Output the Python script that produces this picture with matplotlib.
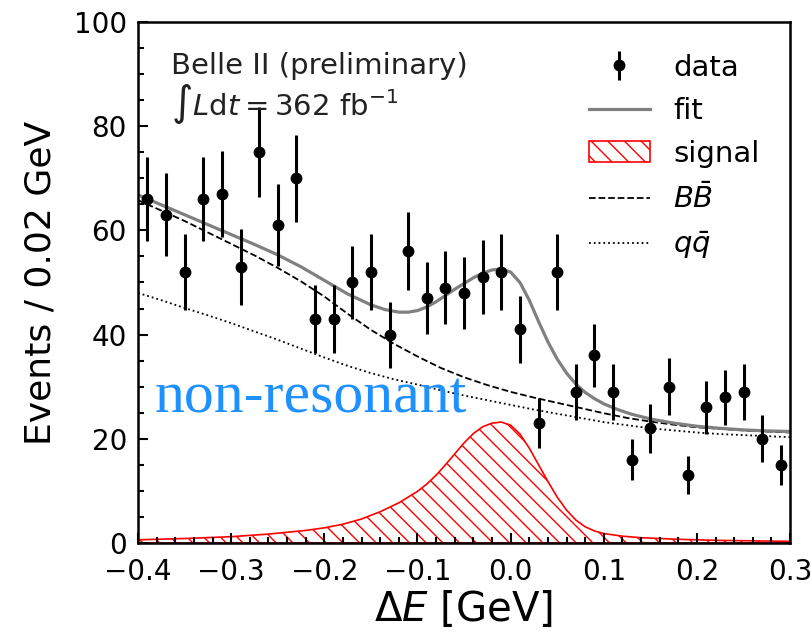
import numpy as np
import matplotlib
matplotlib.use("Agg")
import matplotlib.pyplot as plt
from matplotlib.patches import Patch
from matplotlib.lines import Line2D
from matplotlib.ticker import MultipleLocator

# data points (bin centres, 0.02 GeV bins)
de_data = [-0.39, -0.37, -0.35, -0.33, -0.31, -0.29, -0.27, -0.25, -0.23, -0.21,
           -0.19, -0.17, -0.15, -0.13, -0.11, -0.09, -0.07, -0.05, -0.03, -0.01,
           0.01, 0.03, 0.05, 0.07, 0.09, 0.11, 0.13, 0.15, 0.17, 0.19,
           0.21, 0.23, 0.25, 0.27, 0.29]
counts = [66, 63, 52, 66, 67, 53, 75, 61, 70, 43,
          43, 50, 52, 40, 56, 47, 49, 48, 51, 52,
          41, 23, 52, 29, 36, 29, 16, 22, 30, 13,
          26, 28, 29, 20, 15]

# total fit curve
fit_x = [-0.400, -0.375, -0.350, -0.325, -0.300, -0.275, -0.250, -0.225, -0.200, -0.175,
         -0.150, -0.135, -0.120, -0.110, -0.100, -0.090, -0.080, -0.070, -0.060, -0.050,
         -0.040, -0.030, -0.020, -0.010, 0.000, 0.010, 0.020, 0.030, 0.040, 0.050,
         0.060, 0.070, 0.080, 0.090, 0.100, 0.115, 0.130, 0.150, 0.175, 0.200,
         0.225, 0.250, 0.275, 0.300]
fit_y = [66.8, 64.9, 63.0, 61.1, 59.2, 57.3, 55.3, 53.0, 50.4, 47.8,
         45.7, 44.8, 44.3, 44.3, 44.6, 45.3, 46.3, 47.5, 48.7, 49.8,
         50.9, 51.8, 52.4, 52.6, 52.0, 50.0, 46.6, 42.5, 38.6, 35.3,
         32.6, 30.5, 28.9, 27.7, 26.7, 25.6, 24.7, 23.8, 23.0, 22.4,
         22.0, 21.7, 21.5, 21.4]

# BBbar and qqbar components (stacked)
bkg_x = [-0.400, -0.375, -0.350, -0.325, -0.300, -0.275, -0.250, -0.225, -0.200, -0.175,
         -0.150, -0.125, -0.100, -0.075, -0.050, -0.025, 0.000, 0.025, 0.050, 0.075,
         0.100, 0.125, 0.150, 0.175, 0.200, 0.225, 0.250, 0.275, 0.300]
bb_y = [65.8, 63.8, 61.8, 59.6, 57.4, 55.2, 52.8, 50.2, 47.3, 44.0,
        40.9, 38.2, 35.8, 33.6, 31.8, 30.3, 29.0, 27.9, 26.9, 25.9,
        24.9, 24.0, 23.3, 22.7, 22.2, 21.9, 21.6, 21.4, 21.2]
qq_y = [48.0, 46.6, 45.1, 43.7, 42.2, 40.6, 39.0, 37.3, 35.6, 34.0,
        32.6, 31.4, 30.4, 29.3, 28.3, 27.4, 26.5, 25.6, 24.8, 24.0,
        23.2, 22.6, 22.0, 21.6, 21.2, 20.9, 20.7, 20.5, 20.3]

# signal component
sig_x = [-0.40, -0.35, -0.30, -0.26, -0.22, -0.20, -0.18, -0.16, -0.14, -0.12,
         -0.10, -0.09, -0.08, -0.07, -0.06, -0.05, -0.04, -0.03, -0.02, -0.01,
         0.00, 0.01, 0.02, 0.03, 0.04, 0.05, 0.06, 0.07, 0.08, 0.09,
         0.10, 0.12, 0.14, 0.18, 0.22, 0.30]
sig_y = [0.6, 0.85, 1.2, 1.7, 2.4, 2.9, 3.6, 4.6, 6.0, 7.7,
         9.9, 11.3, 13.0, 15.0, 17.1, 19.2, 21.0, 22.3, 23.0, 23.2,
         22.6, 20.9, 18.2, 15.0, 11.8, 8.8, 6.3, 4.4, 3.1, 2.3,
         1.8, 1.3, 1.0, 0.7, 0.5, 0.3]

fig = plt.figure(figsize=(8.12, 6.38), dpi=100)
ax = fig.add_axes([0.170, 0.149, 0.803, 0.8165])

ax.fill_between(sig_x, 0, sig_y, facecolor="none", edgecolor="red",
                hatch="\\\\", linewidth=1.2)
ax.plot(bkg_x, qq_y, color="black", linestyle=":", linewidth=1.3)
ax.plot(bkg_x, bb_y, color="black", linestyle="--", linewidth=1.3)
ax.plot(fit_x, fit_y, color="gray", linewidth=2.3)
ax.errorbar(de_data, counts, yerr=np.sqrt(counts), fmt="o", color="black",
            markersize=7.5, elinewidth=2.2, capsize=0)

ax.set_xlim(-0.4, 0.3)
ax.set_ylim(0, 100)
ax.xaxis.set_major_locator(MultipleLocator(0.1))
ax.xaxis.set_minor_locator(MultipleLocator(0.02))
ax.yaxis.set_major_locator(MultipleLocator(20))
ax.yaxis.set_minor_locator(MultipleLocator(5))
ax.tick_params(which="both", direction="in", top=False, right=False,
               labelsize=20, width=1.5)
ax.tick_params(axis="x", which="both", pad=11)
ax.tick_params(axis="y", which="both", pad=8)
ax.tick_params(which="major", length=7)
ax.tick_params(which="minor", length=4)
for s in ax.spines.values():
    s.set_linewidth(1.8)

ax.set_xlabel(r"$\Delta E$ [GeV]", fontsize=29, labelpad=2)
ax.set_ylabel("Events / 0.02 GeV", fontsize=26, labelpad=12)

ax.text(0.05, 0.915, "Belle II (preliminary)", transform=ax.transAxes,
        fontsize=21, color="#222222", va="center")
ax.text(0.05, 0.843, r"$\int L\mathrm{d}t = 362$ fb$^{-1}$", transform=ax.transAxes,
        fontsize=21, color="#222222", va="center")
ax.text(-0.382, 25, "non-resonant", fontsize=43, color="#1e90ff",
        family="Liberation Serif", va="baseline")

data_h = ax.errorbar([], [], yerr=[], fmt="o", color="black", markersize=7.5,
                     elinewidth=2.2, capsize=0)
handles = [
    data_h,
    Line2D([], [], color="gray", linewidth=2.3),
    Patch(facecolor="none", edgecolor="red", hatch="\\\\", linewidth=1.2),
    Line2D([], [], color="black", linestyle="--", linewidth=1.3),
    Line2D([], [], color="black", linestyle=":", linewidth=1.3),
]
labels = ["data", "fit", "signal", r"$B\bar{B}$", r"$q\bar{q}$"]
ax.legend(handles, labels, loc="upper right", frameon=False, fontsize=21,
          handlelength=2.1, labelspacing=0.52, borderaxespad=0.2,
          bbox_to_anchor=(0.98, 0.973))

fig.savefig("out.png", dpi=100)
